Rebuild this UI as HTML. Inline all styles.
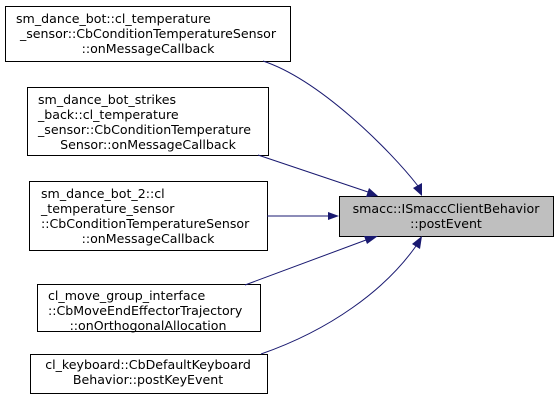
<!DOCTYPE html>
<html><head><style>
body{margin:0;background:#fff;width:559px;height:403px;overflow:hidden}
svg text{font-family:"DejaVu Sans","Liberation Sans",sans-serif;font-size:12.6px;fill:#000}
</style></head><body>
<svg width="559" height="403" viewBox="0 0 559 403">
<g fill="#fff" stroke="#000" stroke-width="1">
<rect x="5.5" y="6.5" width="285" height="55"/>
<rect x="27.5" y="87.5" width="241" height="68"/>
<rect x="29.5" y="181.5" width="238" height="69"/>
<rect x="37.5" y="284.5" width="223" height="47"/>
<rect x="30.5" y="354.5" width="237" height="39"/>
<rect x="339.5" y="196.5" width="214" height="40" fill="#bfbfbf"/>
</g>
<g fill="none" stroke="#191970" stroke-width="1">
<path d="M263,61 C320,80 390,150 418,186"/>
<path d="M258,155 L368,192"/>
<path d="M267,216 L328,216"/>
<path d="M245,285 L366,240"/>
<path d="M261,354 C330,330 385,290 416,246"/>
</g>
<g fill="#191970">
<polygon points="422,196 413,188 422,183"/>
<polygon points="378,196 366,197 369,188"/>
<polygon points="339,216 328,220 328,212"/>
<polygon points="378,236 367,244 364,236"/>
<polygon points="422,236 420,249 412,244"/>
</g>
<g text-anchor="middle">
<text x="16" y="23" text-anchor="start">sm_dance_bot::cl_temperature</text>
<text x="148" y="38">_sensor::CbConditionTemperatureSensor</text>
<text x="148" y="53">::onMessageCallback</text>
<text x="38" y="104" text-anchor="start">sm_dance_bot_strikes</text>
<text x="38" y="119" text-anchor="start">_back::cl_temperature</text>
<text x="38" y="134" text-anchor="start">_sensor::CbConditionTemperature</text>
<text x="148" y="149">Sensor::onMessageCallback</text>
<text x="41" y="198" text-anchor="start">sm_dance_bot_2::cl</text>
<text x="41" y="213" text-anchor="start">_temperature_sensor</text>
<text x="41" y="228" text-anchor="start">::CbConditionTemperatureSensor</text>
<text x="148" y="243">::onMessageCallback</text>
<text x="48" y="300" text-anchor="start">cl_move_group_interface</text>
<text x="48" y="315" text-anchor="start">::CbMoveEndEffectorTrajectory</text>
<text x="148" y="330">::onOrthogonalAllocation</text>
<text x="148" y="369">cl_keyboard::CbDefaultKeyboard</text>
<text x="148" y="384">Behavior::postKeyEvent</text>
<text x="446" y="213">smacc::ISmaccClientBehavior</text>
<text x="446" y="228">::postEvent</text>
</g>
</svg>
</body></html>
